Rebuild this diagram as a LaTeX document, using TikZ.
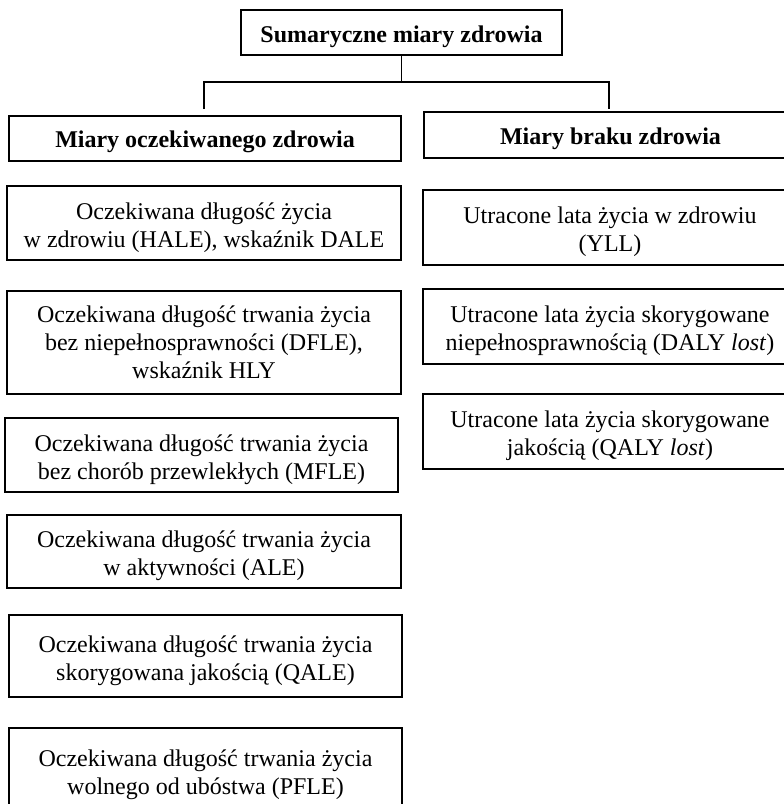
\documentclass[tikz,border=0pt]{standalone}
\usepackage{fontspec}
\setmainfont{Liberation Serif}
\newcommand\mlines[1]{\begin{tabular}[t]{@{}c@{}}#1\end{tabular}}
\tikzset{
  bx/.style={draw, line width=1.1pt, inner sep=0pt},
  tx/.style={inner sep=0pt, anchor=base, font=\fontsize{24}{28}\selectfont},
  hx/.style={tx, font=\fontsize{24}{28}\selectfont\bfseries},
  ln/.style={line width=1.1pt}
}
\begin{document}
\begin{tikzpicture}[x=1pt,y=1pt]
\useasboundingbox (0,0) rectangle (784,-804);
% top
\node[bx, minimum width=321pt, minimum height=45pt] (top) at (401.5,-32.5) {};
\node[hx] (topt) at ([yshift=-10pt]top.center) {Sumaryczne miary zdrowia};
% headers
\node[bx, minimum width=392pt, minimum height=45pt] (hl) at (205,-138.5) {};
\node[hx] (hlt) at ([yshift=-9pt]hl.center) {Miary oczekiwanego zdrowia};
\node[bx, minimum width=373pt, minimum height=46pt] (hr) at (610.5,-135) {};
\node[hx] (hrt) at ([yshift=-9pt]hr.center) {Miary braku zdrowia};
% connectors
\coordinate (jc) at (401.5,-82);
\coordinate (jl) at (204,-82);
\coordinate (jr) at (609,-82);
\coordinate (el) at (204,-109);
\coordinate (er) at (609,-109);
\draw[ln] (top.south) -- (jc);
\draw[ln] (el) -- (jl) -- (jr) -- (er);
% left column
\node[bx, minimum width=394pt, minimum height=74pt] (l1) at (204,-223) {};
\node[tx] (l1t) at ([yshift=4pt]l1.center) {\mlines{Oczekiwana długość życia\\w zdrowiu (HALE), wskaźnik DALE}};
\node[bx, minimum width=394pt, minimum height=103pt] (l2) at (204,-342.5) {};
\node[tx] (l2t) at ([yshift=20.5pt]l2.center) {\mlines{Oczekiwana długość trwania życia\\bez niepełnosprawności (DFLE),\\wskaźnik HLY}};
\node[bx, minimum width=393pt, minimum height=74pt] (l3) at (201.5,-455) {};
\node[tx] (l3t) at ([yshift=4pt]l3.center) {\mlines{Oczekiwana długość trwania życia\\bez chorób przewlekłych (MFLE)}};
\node[bx, minimum width=394pt, minimum height=73pt] (l4) at (204,-551.5) {};
\node[tx] (l4t) at ([yshift=4.5pt]l4.center) {\mlines{Oczekiwana długość trwania życia\\w aktywności (ALE)}};
\node[bx, minimum width=393pt, minimum height=82pt] (l5) at (205.5,-656) {};
\node[tx] (l5t) at ([yshift=4pt]l5.center) {\mlines{Oczekiwana długość trwania życia\\skorygowana jakością (QALE)}};
\node[bx, minimum width=393pt, minimum height=82pt] (l6) at (205.5,-769) {};
\node[tx] (l6t) at ([yshift=3pt]l6.center) {\mlines{Oczekiwana długość trwania życia\\wolnego od ubóstwa (PFLE)}};
% right column
\node[bx, minimum width=374pt, minimum height=75pt] (r1) at (610,-227.5) {};
\node[tx] (r1t) at ([yshift=4.5pt]r1.center) {\mlines{Utracone lata życia w zdrowiu\\(YLL)}};
\node[bx, minimum width=374pt, minimum height=75pt] (r2) at (610,-326.5) {};
\node[tx] (r2t) at ([yshift=4pt]r2.center) {\mlines{Utracone lata życia skorygowane\\niepełnosprawnością (DALY \textit{lost})}};
\node[bx, minimum width=374pt, minimum height=75pt] (r3) at (610,-431.5) {};
\node[tx] (r3t) at ([yshift=4pt]r3.center) {\mlines{Utracone lata życia skorygowane\\jakością (QALY \textit{lost})}};
\end{tikzpicture}
\end{document}
